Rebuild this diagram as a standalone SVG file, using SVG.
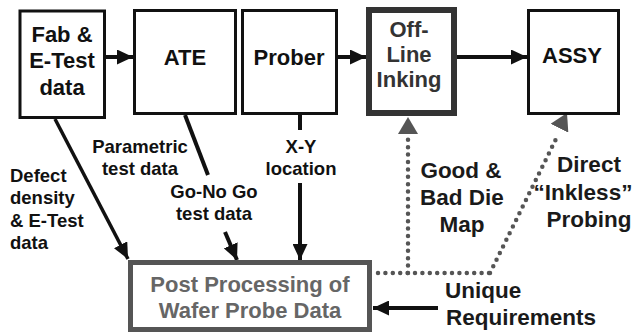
<svg xmlns="http://www.w3.org/2000/svg" width="634" height="332" viewBox="0 0 634 332">
  <style>
    .box { fill: #fff; stroke: #111; stroke-width: 3; }
    .title { font-family: "Liberation Sans", Arial, sans-serif; font-weight: bold; font-size: 22px; fill: #111; text-anchor: middle; }
    .lbl { font-family: "Liberation Sans", Arial, sans-serif; font-weight: bold; font-size: 18.5px; fill: #111; }
    .lbl2 { font-family: "Liberation Sans", Arial, sans-serif; font-weight: bold; font-size: 22.5px; fill: #1a1a1a; }
    .flow { fill: none; stroke: #111; stroke-width: 4; }
    .dots { fill: none; stroke: #555; stroke-width: 4.5; stroke-linecap: round; stroke-dasharray: 0 7.4; }
  </style>
  <defs>
    <marker id="arrow" markerUnits="userSpaceOnUse" markerWidth="17" markerHeight="15" refX="16" refY="7.5" orient="auto">
      <path d="M0,0 L16,7.5 L0,15 z" fill="#111"/>
    </marker>
    <marker id="arrowGray" markerUnits="userSpaceOnUse" markerWidth="18" markerHeight="20" refX="17" refY="10" orient="auto">
      <path d="M0,0 L17,10 L0,20 z" fill="#555"/>
    </marker>
  </defs>

  <!-- connectors -->
  <g id="connectors">
    <path class="flow" d="M106,57 L133,57" marker-end="url(#arrow)"/>
    <path class="flow" d="M338,57 L366,57" marker-end="url(#arrow)"/>
    <path class="flow" d="M457,57 L527,57" marker-end="url(#arrow)"/>
    <path class="flow" style="stroke-width:3.5" d="M55,119 L128,259" marker-end="url(#arrow)"/>
    <path class="flow" d="M185,115 L208,175"/>
    <path class="flow" d="M225,232 L237,260" marker-end="url(#arrow)"/>
    <path class="flow" d="M300,115 L300,130"/>
    <path class="flow" d="M300,183 L300,260" marker-end="url(#arrow)"/>
    <path class="flow" d="M438,308 L373,308" marker-end="url(#arrow)"/>
    <path class="dots" d="M378,273 L490,273"/>
    <path class="dots" d="M408,273 L408,134"/>
    <path fill="none" stroke="none" d="M408,140 L408,117" marker-end="url(#arrowGray)"/>
    <path class="dots" d="M490,273 L556,139"/>
    <path fill="none" stroke="none" d="M556,135 L567,113" marker-end="url(#arrowGray)"/>
  </g>

  <g id="fab">
    <rect class="box" x="20" y="11" width="84.5" height="106.5"/>
    <text class="title" x="62" y="42">Fab &amp;</text>
    <text class="title" x="62" y="68">E-Test</text>
    <text class="title" x="62" y="95">data</text>
  </g>

  <g id="ate">
    <rect class="box" x="134.5" y="10.5" width="101" height="103"/>
    <text class="title" x="185" y="65">ATE</text>
  </g>

  <g id="prober">
    <rect class="box" x="242.5" y="10.5" width="94" height="103"/>
    <text class="title" x="289" y="65">Prober</text>
  </g>

  <g id="inking">
    <rect x="369" y="10" width="85" height="103" fill="#fff" stroke="#333" stroke-width="6"/>
    <text class="title" style="fill:#333" x="409" y="37">Off-</text>
    <text class="title" style="fill:#333" x="409" y="62">Line</text>
    <text class="title" style="fill:#333" x="409" y="87">Inking</text>
  </g>

  <g id="assy">
    <rect class="box" x="528.5" y="10.5" width="90" height="103"/>
    <text class="title" x="572" y="63">ASSY</text>
  </g>

  <g id="post">
    <rect x="130.5" y="262.5" width="239" height="67" fill="#fff" stroke="#555" stroke-width="5"/>
    <text class="title" style="fill:#666" x="250" y="292">Post Processing of</text>
    <text class="title" style="fill:#666" x="250" y="318">Wafer Probe Data</text>
  </g>

  <!-- connector labels -->
  <g id="labels">
    <text class="lbl" x="10" y="182">Defect</text>
    <text class="lbl" x="10" y="204">density</text>
    <text class="lbl" x="10" y="227">&amp; E-Test</text>
    <text class="lbl" x="10" y="249">data</text>
    <text class="lbl" x="140" y="153" text-anchor="middle">Parametric</text>
    <text class="lbl" x="140" y="175" text-anchor="middle">test data</text>
    <text class="lbl" x="214" y="198" text-anchor="middle">Go-No Go</text>
    <text class="lbl" x="214" y="220" text-anchor="middle">test data</text>
    <text class="lbl" x="301" y="153" text-anchor="middle">X-Y</text>
    <text class="lbl" x="301" y="175" text-anchor="middle">location</text>
    <text class="lbl2" x="461" y="178" text-anchor="middle">Good &amp;</text>
    <text class="lbl2" x="462" y="205" text-anchor="middle">Bad Die</text>
    <text class="lbl2" x="462" y="232" text-anchor="middle">Map</text>
    <text class="lbl2" x="589" y="172" text-anchor="middle">Direct</text>
    <text class="lbl2" x="583" y="200" text-anchor="middle">“Inkless”</text>
    <text class="lbl2" x="589" y="227" text-anchor="middle">Probing</text>
    <text class="lbl2" x="445" y="298">Unique</text>
    <text class="lbl2" x="446" y="325">Requirements</text>
  </g>
</svg>
